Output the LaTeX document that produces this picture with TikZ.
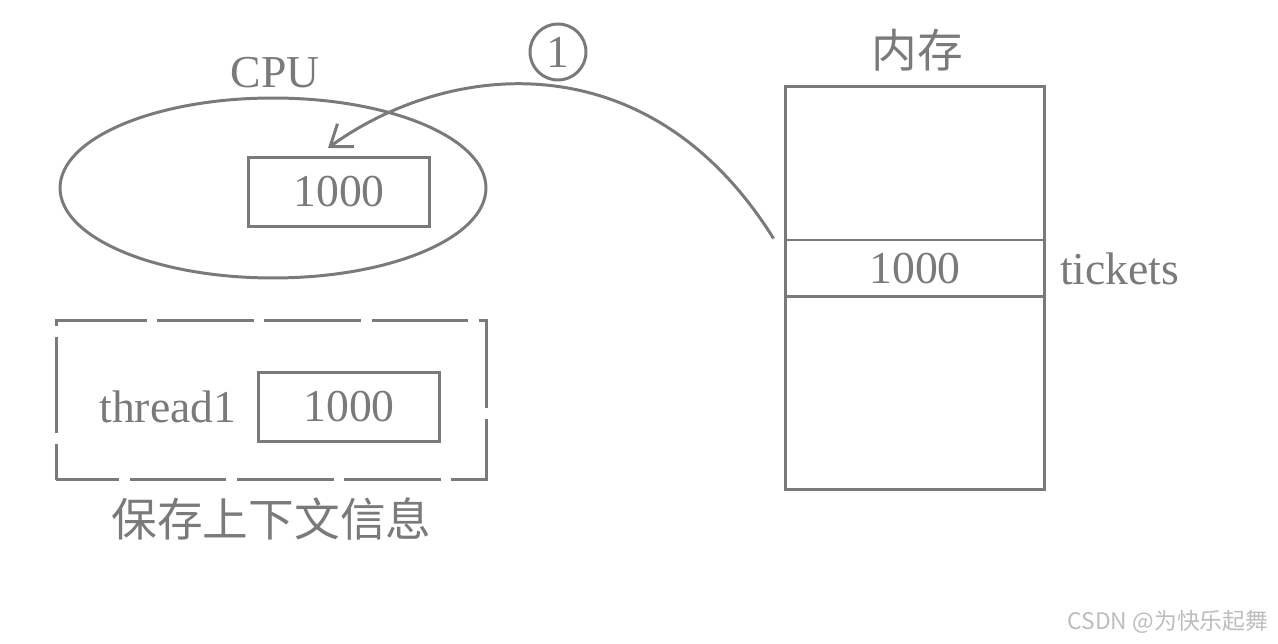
\documentclass[tikz,border=0pt]{standalone}
\usepackage{fontspec}
\setmainfont{Liberation Serif}
\newfontfamily\cjk{Noto Sans CJK SC}
\usetikzlibrary{arrows.meta, positioning, shapes.geometric}
\definecolor{inkgray}{HTML}{7A7A7A}
\definecolor{markgray}{HTML}{BDBDBD}

\begin{document}
\begin{tikzpicture}[x=0.02cm, y=-0.02cm,
    every node/.style={text=inkgray, font=\fontsize{26}{30}\selectfont},
    valbox/.style={rectangle, draw=inkgray, line width=1.7pt, minimum width=3.64cm, minimum height=1.37cm, inner sep=0pt},
    cell/.style={rectangle, draw=inkgray, line width=1.7pt, minimum width=5.2cm, inner sep=0pt},
    arrow/.style={draw=inkgray, line width=1.7pt, -{Straight Barb[length=11pt, width=16pt, line width=1.7pt]}}]
    \useasboundingbox (0,0) rectangle (1278,644);
    % CPU side
    \node [ellipse, draw=inkgray, line width=1.7pt, minimum width=8.52cm, minimum height=3.6cm] (cpu) at (273,188) {};
    \node (cpulabel) at (275,73) {CPU};
    \node [valbox] (cpuval) at (339,192) {1000};
    % saved context
    \node [rectangle, draw=inkgray, line width=1.7pt, dash pattern=on 55pt off 6pt, dash phase=19pt, minimum width=8.62cm, minimum height=3.2cm] (ctx) at (271.5,400) {};
    \node [valbox] (threadval) at (349,407) {1000};
    \node [left=0.28cm of threadval] (thread) {thread1};
    \node [below=0.2cm of ctx] (ctxlabel) {\cjk 保存上下文信息};
    % memory
    \node [cell, minimum height=8.08cm] (mem) at (915,288) {};
    \node [cell, minimum height=1.14cm] (ticket) at (915,268.5) {1000};
    \node [right=0.15cm of ticket] (ticketlabel) {tickets};
    \node (memlabel) at (917,50) {\cjk 内存};
    % load step
    \node [circle, draw=inkgray, line width=1.7pt, minimum size=1.12cm, inner sep=0pt] (step1) at (558,52) {1};
    \coordinate (from) at ([xshift=-0.2cm]ticket.north west);
    \coordinate (to) at (328,148);
    \draw [arrow] (from) .. controls (650,40) and (450,60) .. (to);
    \node [text=markgray, font=\fontsize{13}{15}\cjk] (mark) at (1168,622) {CSDN @为快乐起舞};
\end{tikzpicture}
\end{document}
